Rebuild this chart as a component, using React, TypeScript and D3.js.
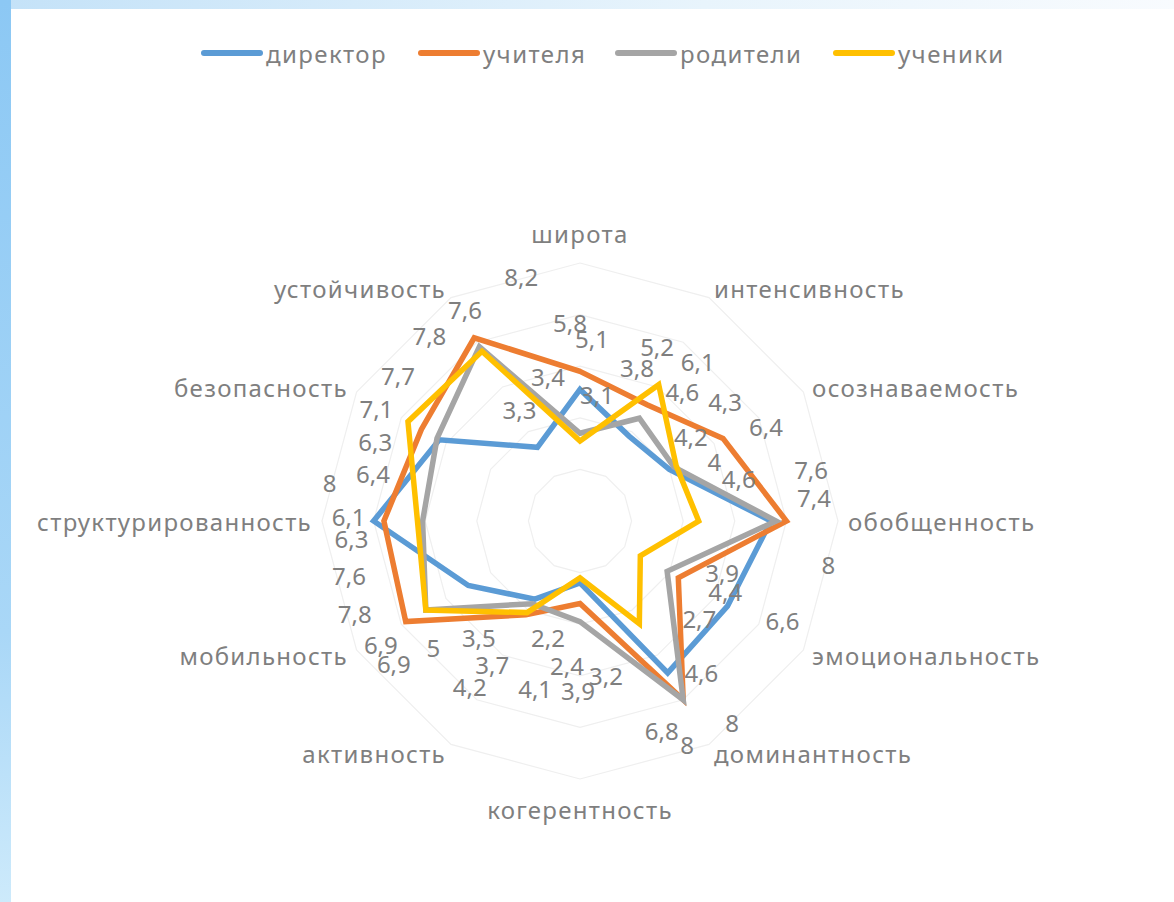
import React from 'react';
import { scaleLinear, lineRadial, curveLinearClosed } from 'd3';

const AXES = [
  'широта',
  'интенсивность',
  'осознаваемость',
  'обобщенность',
  'эмоциональность',
  'доминантность',
  'когерентность',
  'активность',
  'мобильность',
  'структурированность',
  'безопасность',
  'устойчивость',
];

const SERIES_NAMES = ['директор', 'учителя', 'родители', 'ученики'];

const DIRECTOR = [5.1, 3.8, 4.0, 7.4, 6.6, 6.8, 2.4, 3.5, 5.0, 8.0, 6.3, 3.3];
const TEACHERS = [5.8, 5.2, 6.4, 8.0, 4.4, 8.0, 3.2, 4.2, 7.8, 7.6, 7.1, 8.2];
const PARENTS = [3.4, 4.6, 4.2, 7.6, 3.9, 8.0, 3.9, 3.7, 6.9, 6.1, 6.4, 7.8];
const STUDENTS = [3.1, 6.1, 4.3, 4.6, 2.7, 4.6, 2.2, 4.1, 6.9, 6.3, 7.7, 7.6];

const TICKS = [2, 4, 6, 8, 10];

const COLORS = ['#5B9BD5', '#ED7D31', '#A5A5A5', '#FFC000'];

// where each value label sits, relative to its point (px)
const NUDGE_DIRECTOR = [[12, -51], [8, -69], [45, -8], [43, -24], [55, 14], [-6, 58], [-13, 83], [-56, 38], [-35, 62], [-44, -39], [-64, 2], [-18, -38]];
const NUDGE_TEACHERS = [[-10, -49], [10, -58], [43, -12], [42, 43], [47, 14], [4, 45], [26, 72], [-56, 72], [-51, -8], [-35, 54], [-45, -21], [47, -61]];
const NUDGE_PARENTS = [[-32, -57], [43, -27], [17, -30], [35, -52], [55, 1], [49, 23], [-2, 69], [-40, 61], [-45, 34], [-74, -5], [-64, 35], [-50, -11]];
const NUDGE_STUDENTS = [[17, -47], [39, -23], [49, -64], [40, -43], [59, 63], [62, 49], [-32, 60], [8, 76], [-32, 53], [-66, 17], [-10, -46], [-17, -42]];

const SERIES = [DIRECTOR, TEACHERS, PARENTS, STUDENTS];
const NUDGES = [NUDGE_DIRECTOR, NUDGE_TEACHERS, NUDGE_PARENTS, NUDGE_STUDENTS];

const FONT = '"Noto Sans", "DejaVu Sans", sans-serif';
const TEXT_COLOR = '#7f7f7f';

export default function App() {
  const width = 1174;
  const height = 902;
  const cx = 580;
  const cy = 521;
  const R = 258;

  const r = scaleLinear().domain([0, 10]).range([0, R]);
  const angle = (i: number) => (i * 2 * Math.PI) / AXES.length;

  const radar = lineRadial<number>()
    .angle((_, i) => angle(i))
    .radius(d => r(d))
    .curve(curveLinearClosed);

  const pt = (v: number, i: number) => [
    cx + r(v) * Math.sin(angle(i)),
    cy - r(v) * Math.cos(angle(i)),
  ];

  const rings = TICKS.map(t => (
    <path
      key={'ring' + t}
      d={radar(AXES.map(() => t)) || ''}
      transform={`translate(${cx},${cy})`}
      fill="none"
      stroke="#efefef"
      strokeWidth={1.2}
    />
  ));

  const lines = SERIES.map((s, k) => (
    <path
      key={'s' + k}
      d={radar(s) || ''}
      transform={`translate(${cx},${cy})`}
      fill="none"
      stroke={COLORS[k]}
      strokeWidth={5.5}
      strokeLinejoin="miter"
    />
  ));

  const valueLabels = SERIES.map((s, k) =>
    s.map((v, i) => {
      const [x, y] = pt(v, i);
      const [dx, dy] = NUDGES[k][i];
      return (
        <text
          key={`l${k}_${i}`}
          x={x + dx}
          y={y + dy}
          textAnchor="middle"
          dominantBaseline="central"
          fontSize={24}
          fill={TEXT_COLOR}
        >
          {String(v).replace('.', ',')}
        </text>
      );
    })
  );

  const catLabels = AXES.map((name, i) => {
    const a = angle(i);
    const s = Math.sin(a);
    const c = Math.cos(a);
    const pad = 10;
    const x = cx + (R + pad) * s;
    let y = cy - (R + pad) * c;
    if (Math.abs(s) < 0.1) y -= c * 20;
    const anchor = s > 0.1 ? 'start' : s < -0.1 ? 'end' : 'middle';
    return (
      <text
        key={'c' + i}
        x={x}
        y={y}
        textAnchor={anchor}
        dominantBaseline="central"
        fontSize={24}
        letterSpacing={1.3}
        fill={TEXT_COLOR}
      >
        {name}
      </text>
    );
  });

  // legend
  const legendX = [204, 421, 618, 836];
  const legendY = 53;
  const legend = SERIES_NAMES.map((name, k) => (
    <g key={'lg' + k}>
      <line
        x1={legendX[k]}
        x2={legendX[k] + 56}
        y1={legendY}
        y2={legendY}
        stroke={COLORS[k]}
        strokeWidth={6}
        strokeLinecap="round"
      />
      <text
        x={legendX[k] + 62}
        y={legendY}
        dominantBaseline="central"
        fontSize={24}
        letterSpacing={1.4}
        fill={TEXT_COLOR}
      >
        {name}
      </text>
    </g>
  ));

  return (
    <svg
      width={width}
      height={height}
      style={{ position: 'absolute', left: 0, top: 0, fontFamily: FONT }}
    >
      <defs>
        <linearGradient id="topStrip" x1="0" x2="1" y1="0" y2="0">
          <stop offset="0" stopColor="#c4e2f8" />
          <stop offset="0.6" stopColor="#e8f4fc" />
          <stop offset="1" stopColor="#f8fbfe" />
        </linearGradient>
        <linearGradient id="leftStrip" x1="0" x2="0" y1="0" y2="1">
          <stop offset="0" stopColor="#8cc8f4" />
          <stop offset="0.7" stopColor="#a9d7f7" />
          <stop offset="1" stopColor="#cdeafb" />
        </linearGradient>
      </defs>
      <rect x={0} y={0} width={width} height={height} fill="white" />
      <rect x={0} y={0} width={width} height={9} fill="url(#topStrip)" />
      <rect x={0} y={0} width={11} height={height} fill="url(#leftStrip)" />
      <rect x={11} y={9} width={width - 11} height={height - 9} fill="white" />
      {rings}
      {lines}
      {valueLabels}
      {catLabels}
      {legend}
    </svg>
  );
}
